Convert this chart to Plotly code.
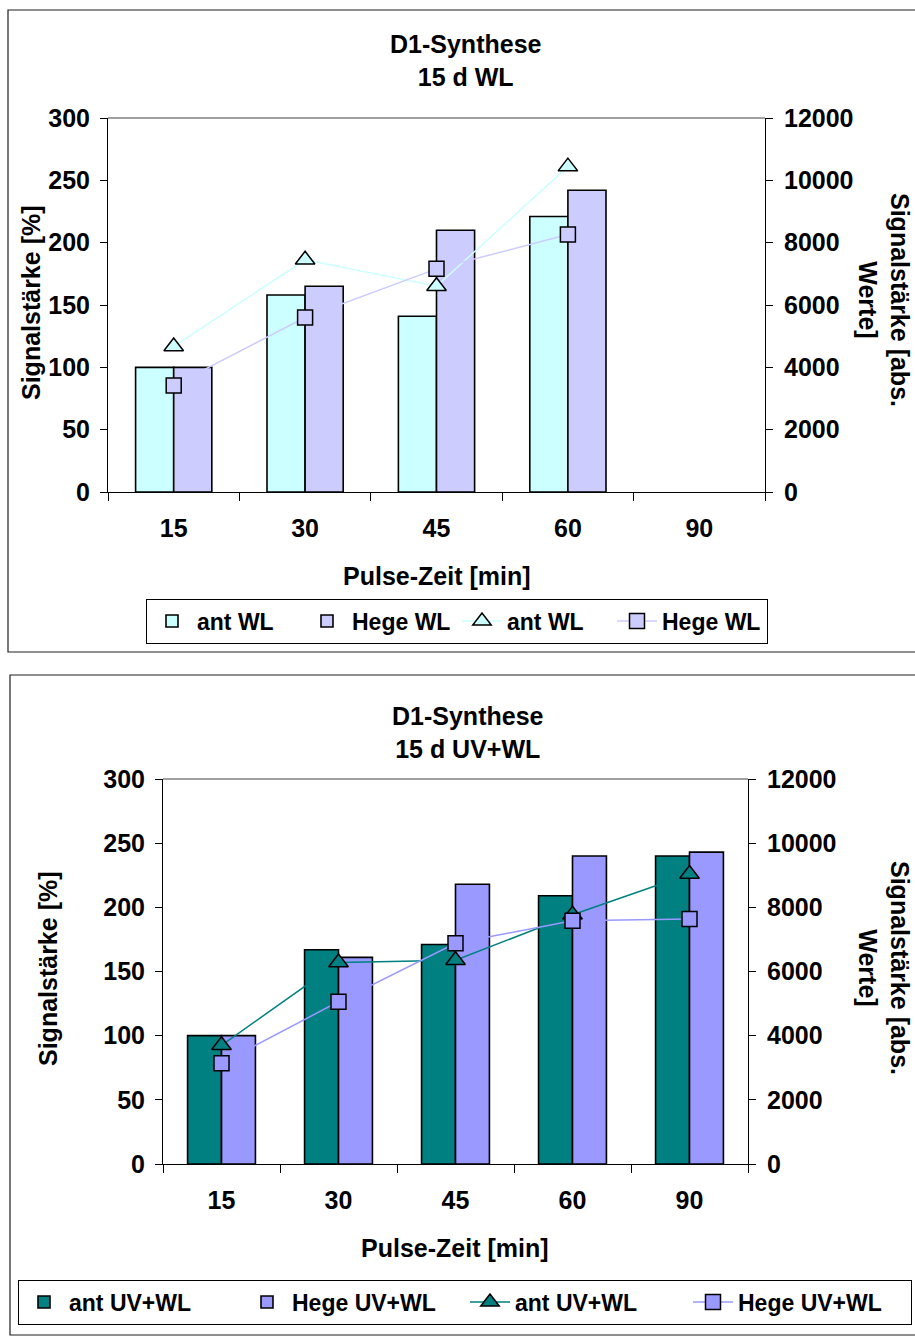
import plotly.graph_objects as go

# ---------------- data ----------------
categories = ["15", "30", "45", "60", "90"]

# top chart: 15 d WL  (bars: % ; lines: absolute values)
ant_wl_pct = [100, 158, 141, 221, None]
hege_wl_pct = [100, 165, 210, 242, None]
ant_wl_abs = [4670, 7450, 6600, 10440, None]
hege_wl_abs = [3420, 5600, 7160, 8260, None]

# bottom chart: 15 d UV+WL
ant_uv_pct = [100, 167, 171, 209, 240]
hege_uv_pct = [100, 161, 218, 240, 243]
ant_uv_abs = [3700, 6280, 6350, 7770, 9040]
hege_uv_abs = [3140, 5060, 6880, 7580, 7640]

titles = ["D1-Synthese<br>15 d WL", "D1-Synthese<br>15 d UV+WL"]
x_title = "Pulse-Zeit [min]"
y_left_title = "Signalstärke [%]"
y_right_title = "Signalstärke [abs.<br>Werte]"

# ---------------- layout constants ----------------
W, H = 915, 1338
F = "Liberation Sans"
FS = 25


def fx(p):
    return p / W


def fy(p):
    return 1 - p / H


BLACK = "black"
font_b = dict(family=F, size=FS, color=BLACK, weight="bold")

fig = go.Figure()


def add_chart(xa, ya_l, ya_r, legend, pct1, pct2, abs1, abs2, names, c1, c2):
    fig.add_trace(go.Bar(x=categories, y=pct1, name=names[0], xaxis=xa, yaxis=ya_l,
                         marker=dict(color=c1, line=dict(color=BLACK, width=1.6)),
                         legend=legend))
    fig.add_trace(go.Bar(x=categories, y=pct2, name=names[1], xaxis=xa, yaxis=ya_l,
                         marker=dict(color=c2, line=dict(color=BLACK, width=1.6)),
                         legend=legend))
    fig.add_trace(go.Scatter(x=categories, y=abs1, name=names[0], xaxis=xa, yaxis=ya_r,
                             mode="lines+markers", line=dict(color=c1, width=1.5),
                             marker=dict(symbol="triangle-up", size=17, color=c1,
                                         line=dict(color=BLACK, width=1.5)),
                             legend=legend, connectgaps=False))
    fig.add_trace(go.Scatter(x=categories, y=abs2, name=names[1], xaxis=xa, yaxis=ya_r,
                             mode="lines+markers", line=dict(color=c2, width=1.5),
                             marker=dict(symbol="square", size=15, color=c2,
                                         line=dict(color=BLACK, width=1.5)),
                             legend=legend, connectgaps=False))


add_chart("x", "y", "y2", "legend", ant_wl_pct, hege_wl_pct, ant_wl_abs, hege_wl_abs,
          ["ant WL", "Hege WL"], "#CCFFFF", "#CCCCFF")
add_chart("x2", "y3", "y4", "legend2", ant_uv_pct, hege_uv_pct, ant_uv_abs, hege_uv_abs,
          ["ant UV+WL", "Hege UV+WL"], "#008080", "#9999FF")

boundaries = [i - 0.5 for i in range(len(categories) + 1)]


def xcat(domain, anchor):
    return dict(domain=domain, anchor=anchor, type="category", categoryarray=categories,
                range=[-0.5, len(categories) - 0.5], showline=True, linecolor=BLACK,
                linewidth=1, ticks="outside", ticklen=8, tickcolor=BLACK, tickson="boundaries",
                tickfont=font_b, showgrid=False, zeroline=False, ticklabelstandoff=14,
                automargin=False)


def xdummy(over, anchor):
    return dict(overlaying=over, anchor=anchor, range=[-0.5, len(categories) - 0.5],
                tickvals=boundaries, ticks="inside", ticklen=7, tickcolor=BLACK,
                showticklabels=False, showline=False, showgrid=False, zeroline=False,
                automargin=False)


def yax(domain, anchor, rng, dtick, side="left", over=None, inside=False):
    d = dict(anchor=anchor, range=rng, dtick=dtick, tick0=0, side=side,
             showgrid=False, zeroline=False, tickcolor=BLACK, ticklen=7, tickformat="d",
             automargin=False)
    if over:
        d["overlaying"] = over
    else:
        d["domain"] = domain
    if inside:
        d.update(ticks="inside", showticklabels=False, showline=False)
    else:
        d.update(ticks="outside", showline=True, linecolor=BLACK, linewidth=1,
                 tickfont=font_b, ticklabelstandoff=5 if side == "left" else 6)
    return d


top_xd = [fx(108), fx(765)]
top_yd = [fy(492), fy(118)]
bot_xd = [fx(163), fx(748)]
bot_yd = [fy(1164), fy(779)]

leg_font = dict(family=F, size=23, color=BLACK, weight="bold")

fig.update_layout(
    width=W, height=H, margin=dict(l=0, r=0, t=0, b=0, pad=0, autoexpand=False),
    paper_bgcolor="white", plot_bgcolor="white",
    barmode="group", bargap=0.42, bargroupgap=0,
    font=dict(family=F, color=BLACK),
    xaxis=xcat(top_xd, "y"),
    xaxis2=xcat(bot_xd, "y3"),
    xaxis3=xdummy("x", "y"),
    xaxis4=xdummy("x2", "y3"),
    yaxis=yax(top_yd, "x", [0, 300], 50),
    yaxis2=yax(None, "x", [0, 12000], 2000, side="right", over="y"),
    yaxis3=yax(bot_yd, "x2", [0, 300], 50),
    yaxis4=yax(None, "x2", [0, 12000], 2000, side="right", over="y3"),
    yaxis5=yax(None, "x", [0, 300], 50, over="y", inside=True),
    yaxis6=yax(None, "x", [0, 12000], 2000, side="right", over="y", inside=True),
    yaxis7=yax(None, "x2", [0, 300], 50, over="y3", inside=True),
    yaxis8=yax(None, "x2", [0, 12000], 2000, side="right", over="y3", inside=True),
    legend=dict(orientation="h", x=fx(457), y=fy(621), xanchor="center", yanchor="middle",
                bordercolor=BLACK, borderwidth=1, bgcolor="white", font=leg_font,
                traceorder="normal", itemwidth=40, entrywidth=100),
    legend2=dict(orientation="h", x=fx(465), y=fy(1302), xanchor="center", yanchor="middle",
                 bordercolor=BLACK, borderwidth=1, bgcolor="white", font=leg_font,
                 traceorder="normal", itemwidth=40, entrywidth=168),
)

shapes = [
    # outer chart frames
    dict(type="rect", xref="paper", yref="paper", x0=fx(8), x1=fx(916), y0=fy(652), y1=fy(10),
         line=dict(color="#202020", width=1.2), layer="below"),
    dict(type="rect", xref="paper", yref="paper", x0=fx(10), x1=fx(916), y0=fy(1335), y1=fy(675),
         line=dict(color="#202020", width=1.2), layer="below"),
    # grey top border of plot areas
    dict(type="line", xref="x domain", yref="y domain", x0=0, x1=1, y0=1, y1=1,
         line=dict(color="#808080", width=1.5)),
    dict(type="line", xref="x2 domain", yref="y3 domain", x0=0, x1=1, y0=1, y1=1,
         line=dict(color="#808080", width=1.5)),
]


def bold_lines(t):
    return "<br>".join("<b>" + s + "</b>" for s in t.split("<br>"))


annotations = [
    dict(text=bold_lines(titles[0]), x=fx(466), y=fy(61),
         xref="paper", yref="paper", showarrow=False, font=dict(family=F, size=FS, color=BLACK),
         xanchor="center", yanchor="middle"),
    dict(text=bold_lines(titles[1]), x=fx(468), y=fy(732),
         xref="paper", yref="paper", showarrow=False, font=dict(family=F, size=FS, color=BLACK),
         xanchor="center", yanchor="middle"),
    dict(text=x_title, x=fx(437), y=fy(576), xref="paper", yref="paper", showarrow=False,
         font=font_b, xanchor="center", yanchor="middle"),
    dict(text=x_title, x=fx(455), y=fy(1248), xref="paper", yref="paper", showarrow=False,
         font=font_b, xanchor="center", yanchor="middle"),
    dict(text=y_left_title, x=fx(31), y=fy(303), xref="paper", yref="paper", showarrow=False,
         font=font_b, textangle=-90, xanchor="center", yanchor="middle"),
    dict(text=y_left_title, x=fx(48), y=fy(969), xref="paper", yref="paper", showarrow=False,
         font=font_b, textangle=-90, xanchor="center", yanchor="middle"),
    dict(text=y_right_title, x=fx(884), y=fy(300), xref="paper", yref="paper", showarrow=False,
         font=font_b, textangle=90, xanchor="center", yanchor="middle"),
    dict(text=y_right_title, x=fx(884), y=fy(968), xref="paper", yref="paper", showarrow=False,
         font=font_b, textangle=90, xanchor="center", yanchor="middle"),
]

fig.update_layout(shapes=shapes, annotations=annotations)

fig.write_html("out.html", config={"displayModeBar": False},
               post_script="document.body.style.margin='0';")
